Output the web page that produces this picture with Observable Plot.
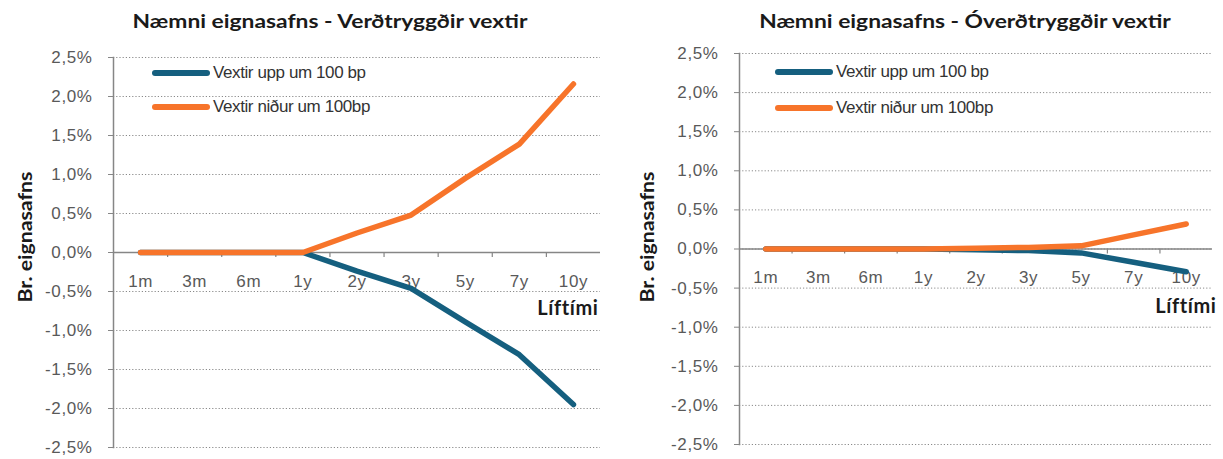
<!DOCTYPE html>
<html><head><meta charset="utf-8">
<script src="https://cdn.jsdelivr.net/npm/d3@7"></script>
<script src="https://cdn.jsdelivr.net/npm/@observablehq/plot@0.6"></script>
<style>
body{margin:0;background:#fff;font-family:"Liberation Sans",Arial,sans-serif;}
#wrap{position:relative;width:1223px;height:459px;overflow:hidden;background:#fff}
.chart{position:absolute;top:0}
.title{position:absolute;font-family:Lato,sans-serif;font-weight:bold;font-size:19px;color:#1a1a1a;white-space:nowrap;transform:translate(-50%,-50%) scaleX(1.2)}
.ytitle{position:absolute;font-family:Lato,sans-serif;font-weight:bold;font-size:19px;color:#1a1a1a;white-space:nowrap;transform:translate(-50%,-50%) rotate(-90deg) scaleX(1.12)}
.leg{position:absolute;display:flex;align-items:center;font-size:17px;color:#333;white-space:nowrap;transform:translateY(-50%);letter-spacing:-0.4px}
.leg .sw{display:inline-block;width:58px;height:6px;margin-right:3px;border-radius:3px}
</style>
</head><body>
<div id="wrap"></div>
<script>
const categories = ["1m","3m","6m","1y","2y","3y","5y","7y","10y"];
const seriesNames = ["Vextir upp um 100 bp","Vextir niður um 100bp"];
const seriesColors = ["#155f7f","#f7742a"];
const indexedUp   = [0,0,0,0,-0.24,-0.46,-0.89,-1.31,-1.95];
const indexedDown = [0,0,0,0,0.25,0.48,0.95,1.39,2.16];
const nominalUp   = [0,0,0,0,-0.01,-0.02,-0.05,-0.17,-0.29];
const nominalDown = [0,0,0,0,0.01,0.02,0.04,0.18,0.32];
const yTicks = [-2.5,-2,-1.5,-1,-0.5,0,0.5,1,1.5,2,2.5];
const titles = ["Næmni eignasafns - Verðtryggðir vextir","Næmni eignasafns - Óverðtryggðir vextir"];
const yLabel = "Br. eignasafns";
const xLabel = "Líftími";

const fmt = d => d.toFixed(1).replace(".", ",") + "%";
const boundaries = categories.map((c,i)=>i+0.5).slice(0,-1);

function chart(cfg){
  const up = categories.map((c,i)=>({i, v: cfg.up[i]}));
  const down = categories.map((c,i)=>({i, v: cfg.down[i]}));
  return Plot.plot({
    width: cfg.width, height: 459,
    marginLeft: cfg.mL, marginRight: cfg.mR, marginTop: cfg.mT, marginBottom: cfg.mB,
    style: {fontFamily: "Liberation Sans, Arial, sans-serif", fontSize: "17px", color: "#595959", background: "transparent", letterSpacing: "0.6px"},
    x: {domain: [-0.5, categories.length - 0.5], axis: null},
    y: {domain: [-2.5, 2.5]},
    marks: [
      Plot.gridY(yTicks, {stroke: "#8a8a8a", strokeOpacity: 1, strokeWidth: 1, strokeDasharray: "1.2,2"}),
      Plot.axisY(yTicks, {tickSize: 5, tickPadding: 16, tickFormat: fmt, stroke: "#868686", label: null, fontSize: 17}),
      Plot.frame({anchor: "left", stroke: "#868686", strokeWidth: 1.5}),
      Plot.ruleY([0], {stroke: "#868686", strokeWidth: 1.5}),
      Plot.ruleX(boundaries, {x: d => d, y1: 0, y2: 0, insetBottom: -5, stroke: "#868686", strokeWidth: 1.2}),
      Plot.text(categories, {x: (d,i) => i, y: 0, dy: 29, fill: "#595959", fontSize: 17}),
      Plot.text([xLabel], {x: [categories.length - 0.5], y: [0], dy: cfg.xlDy, dx: cfg.xlDx, textAnchor: "end", fontWeight: "bold", fontSize: 20, fill: "#1a1a1a", fontFamily: "Lato, sans-serif", letterSpacing: "0.4px"}),
      Plot.line(up, {x: "i", y: "v", stroke: seriesColors[0], strokeWidth: 5.5, strokeLinejoin: "round", strokeLinecap: "round"}),
      Plot.line(down, {x: "i", y: "v", stroke: seriesColors[1], strokeWidth: 5.5, strokeLinejoin: "round", strokeLinecap: "round"})
    ]
  });
}

const wrap = document.getElementById("wrap");
const cfgs = [
  {left: 0, width: 612, mL: 113, mR: 12, mT: 57, mB: 12, up: indexedUp, down: indexedDown, xlDy: 56, xlDx: -2,
   title: [330, 20], ytitle: [24, 237], leg: [152, 73, 107]},
  {left: 612, width: 611, mL: 127, mR: 11, mT: 53, mB: 15, up: nominalUp, down: nominalDown, xlDy: 58, xlDx: 4,
   title: [965, 20], ytitle: [646, 237], leg: [775, 72, 108]}
];
cfgs.forEach((cfg, k) => {
  const svg = chart(cfg);
  svg.classList.add("chart");
  svg.style.left = cfg.left + "px";
  wrap.appendChild(svg);
  const t = document.createElement("div");
  t.className = "title"; t.textContent = titles[k];
  t.style.left = cfg.title[0] + "px"; t.style.top = cfg.title[1] + "px";
  wrap.appendChild(t);
  const yt = document.createElement("div");
  yt.className = "ytitle"; yt.textContent = yLabel;
  yt.style.left = cfg.ytitle[0] + "px"; yt.style.top = cfg.ytitle[1] + "px";
  wrap.appendChild(yt);
  seriesNames.forEach((n, j) => {
    const l = document.createElement("div");
    l.className = "leg";
    l.style.left = cfg.leg[0] + "px"; l.style.top = cfg.leg[1 + j] + "px";
    const sw = document.createElement("span");
    sw.className = "sw"; sw.style.background = seriesColors[j];
    l.appendChild(sw);
    l.appendChild(document.createTextNode(n));
    wrap.appendChild(l);
  });
});
</script>
</body></html>
